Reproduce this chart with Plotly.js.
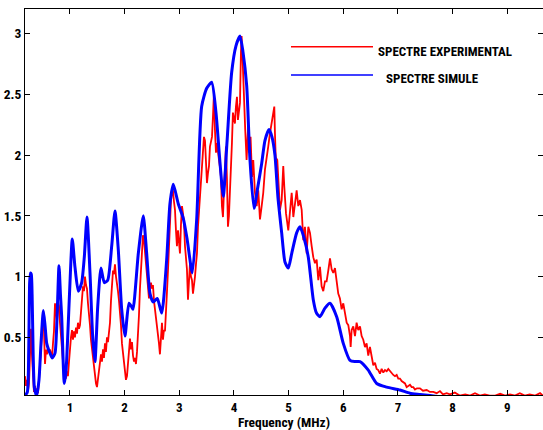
<!DOCTYPE html>
<html>
<head>
<meta charset="utf-8">
<script src="https://cdn.plot.ly/plotly-3.0.1.min.js"></script>
<style>
html,body{margin:0;padding:0;background:#fff;}
#chart{width:543px;height:430px;}
text{font-stretch:75% !important;}
</style>
</head>
<body>
<div id="chart"></div>
<script>
// Experimental spectrum (red), frequency in MHz
const redX = [0.177,0.195,0.213,0.232,0.250,0.268,0.286,0.305,0.323,0.341,0.360,0.378,0.396,0.415,0.433,0.451,0.469,0.488,0.512,0.524,0.543,0.561,0.579,0.598,0.616,0.634,0.652,0.671,0.689,0.707,0.726,0.744,0.762,0.780,0.799,0.817,0.835,0.854,0.872,0.890,0.909,0.927,0.945,0.963,0.982,1.000,
1.018,1.037,1.055,1.073,1.091,1.110,1.128,1.146,1.165,1.183,1.201,1.220,1.238,1.256,1.274,1.293,1.311,1.329,1.348,1.366,1.384,1.402,1.421,1.439,1.457,1.476,1.494,1.512,1.531,1.549,
1.567,1.585,1.604,1.622,1.640,1.658,1.677,1.695,1.713,1.732,1.750,1.768,1.787,1.805,1.823,1.842,1.860,1.878,1.897,1.915,1.933,1.951,1.970,1.988,2.006,2.024,2.043,2.061,2.079,2.098,2.116,2.134,2.153,2.171,2.189,
2.207,2.226,2.244,2.262,2.280,2.299,2.317,2.335,2.354,2.372,2.390,2.408,2.427,2.445,2.463,2.482,2.500,2.518,2.537,2.555,2.573,2.591,2.610,2.628,2.646,2.665,2.683,2.701,2.719,2.738,2.756,2.774,2.793,2.811,2.829,2.848,2.866,2.884,2.902,2.921,2.939,2.957,2.976,2.994,
3.012,3.030,3.049,3.067,3.085,3.104,3.122,3.140,3.159,3.177,3.195,3.213,3.232,3.250,3.268,3.287,3.305,3.323,3.342,3.360,3.378,3.396,3.415,3.433,3.451,3.470,3.488,3.506,3.524,3.543,3.561,3.579,3.598,3.616,3.634,3.652,3.671,3.689,3.707,3.726,3.744,3.762,3.780,3.799,3.817,3.835,3.853,3.872,3.890,3.908,3.926,3.945,3.963,3.981,
4.000,4.018,4.036,4.055,4.073,4.091,4.110,4.128,4.140,4.158,4.183,4.206,4.231,4.260,4.278,4.304,4.330,4.353,4.384,4.416,4.445,4.476,4.507,4.536,4.567,4.598,4.627,4.659,4.689,4.719,4.738,4.750,4.764,4.793,4.811,4.842,4.873,4.902,4.921,4.952,4.994,
5.025,5.056,5.086,5.116,5.147,5.177,5.208,5.239,5.268,5.299,5.330,5.360,5.391,5.422,5.451,5.482,5.513,5.543,5.574,5.604,5.634,5.665,5.695,5.726,5.757,5.787,5.817,5.848,5.879,5.908,5.939,5.970,
6.000,6.031,6.062,6.092,6.123,6.135,6.153,6.183,6.214,6.244,6.274,6.306,6.336,6.366,6.397,6.427,6.457,6.488,6.519,6.549,6.580,6.610,6.640,6.671,6.702,6.732,6.763,6.794,6.824,6.854,6.885,6.915,6.946,6.977,
7.006,7.037,7.068,7.098,7.129,7.159,7.189,7.220,7.251,7.281,7.312,7.348,7.403,7.458,7.526,7.586,7.647,7.709,7.769,7.824,7.892,7.952,
8.04,8.13,8.23,8.32,8.41,8.50,8.59,8.68,8.78,8.87,8.96,9.05,9.14,9.23,9.32,9.41,9.51,9.60,9.65];
const redY = [0.18,0.10,0.15,0.06,0.12,0.30,0.57,0.35,0.12,0.05,0.10,0.03,0.08,0.04,0.15,0.28,0.45,0.62,0.71,0.55,0.28,0.40,0.36,0.42,0.38,0.40,0.35,0.33,0.45,0.55,0.78,0.70,0.63,0.80,0.76,0.62,0.50,0.40,0.30,0.25,0.20,0.16,0.22,0.18,0.30,0.42,
0.50,0.56,0.48,0.55,0.50,0.58,0.53,0.62,0.57,0.60,0.72,0.85,0.92,0.88,1.00,0.93,0.90,0.78,0.70,0.60,0.48,0.40,0.32,0.25,0.18,0.12,0.09,0.15,0.24,0.30,
0.36,0.30,0.40,0.33,0.45,0.38,0.50,0.46,0.56,0.62,0.80,0.95,1.05,1.02,1.10,1.00,0.95,0.88,0.80,0.72,0.60,0.45,0.38,0.28,0.22,0.15,0.18,0.30,0.42,0.49,0.40,0.46,0.35,0.30,0.33,
0.28,0.38,0.50,0.68,0.90,1.05,1.25,1.34,1.30,1.20,1.08,1.00,0.85,0.82,0.92,0.95,0.90,0.93,0.80,0.73,0.65,0.60,0.56,0.45,0.36,0.50,0.62,0.48,0.56,0.55,0.68,0.87,1.05,1.25,1.45,1.63,1.70,1.71,1.62,1.55,1.38,1.25,1.38,1.30,
1.19,1.42,1.58,1.52,1.45,1.25,1.15,1.06,0.81,0.95,1.11,1.00,0.97,0.86,0.92,1.00,1.10,1.19,1.41,1.55,1.69,1.80,1.90,2.05,2.15,2.12,1.96,1.77,1.85,1.91,2.07,2.12,2.15,2.32,2.51,2.21,2.02,2.10,2.05,1.96,1.90,1.82,1.58,1.49,1.70,1.96,2.07,1.80,1.41,1.50,1.66,1.85,2.10,2.35,
2.30,2.26,2.40,2.48,2.29,2.35,2.43,2.85,2.98,2.79,2.43,2.21,1.96,2.24,2.02,2.15,1.82,1.96,1.69,1.58,1.71,1.47,1.58,1.69,1.88,1.96,2.07,2.18,2.26,2.35,2.40,2.18,1.98,1.96,1.77,1.55,1.63,1.91,1.74,1.52,1.38,
1.55,1.69,1.49,1.61,1.71,1.58,1.63,1.55,1.30,1.41,1.19,1.41,1.36,1.25,1.16,1.11,1.14,0.97,1.08,0.92,0.88,0.96,0.96,1.05,1.15,1.06,1.03,1.07,0.97,0.86,0.82,0.73,
0.78,0.70,0.62,0.60,0.51,0.42,0.56,0.59,0.51,0.62,0.56,0.59,0.51,0.48,0.42,0.45,0.35,0.42,0.34,0.27,0.29,0.24,0.23,0.20,0.24,0.21,0.23,0.22,0.24,0.22,0.20,0.19,0.18,0.19,
0.16,0.16,0.14,0.13,0.12,0.09,0.10,0.11,0.09,0.09,0.07,0.08,0.08,0.06,0.066,0.05,0.05,0.04,0.057,0.03,0.04,0.03,
0.045,0.02,0.03,0.02,0.04,0.02,0.03,0.02,0.02,0.035,0.02,0.03,0.02,0.04,0.02,0.03,0.02,0.04,0.02];

// Simulated spectrum (blue)
const blueX = [0.177,0.220,0.245,0.262,0.277,0.292,0.307,0.327,0.350,0.391,0.433,0.470,0.512,0.543,0.574,0.607,0.634,0.676,0.726,0.762,0.799,0.826,0.848,0.896,0.927,0.958,1.000,1.042,1.091,1.152,1.214,1.262,1.311,1.366,1.415,1.457,1.507,1.567,1.628,1.690,1.763,1.823,1.884,1.946,2.006,2.079,2.129,2.153,2.250,2.341,2.403,2.464,2.524,2.597,2.678,2.769,2.829,2.890,2.981,3.073,3.146,3.237,3.318,3.409,3.501,3.592,3.671,3.744,3.805,3.872,3.958,4.037,4.110,4.165,4.233,4.293,4.366,4.430,4.507,4.567,4.641,4.695,4.750,4.805,4.873,4.933,4.994,5.061,5.147,5.208,5.281,5.360,5.451,5.510,5.574,5.665,5.757,5.879,6.000,6.123,6.214,6.306,6.457,6.611,6.794,7.037,7.220,7.403,7.586,7.800,8.500,9.650];
const blueY = [0.02,0.05,0.40,0.95,1.03,1.02,0.85,0.35,0.08,0.02,0.15,0.45,0.72,0.60,0.45,0.40,0.37,0.33,0.37,0.65,1.09,0.85,0.67,0.12,0.22,0.50,0.95,1.31,1.08,0.88,0.95,1.16,1.49,1.03,0.51,0.30,0.75,1.07,0.95,0.97,1.25,1.54,1.22,0.73,0.51,0.78,0.75,0.73,1.19,1.50,1.19,0.86,0.79,0.82,0.70,1.14,1.60,1.76,1.60,1.48,1.30,1.03,1.47,2.40,2.55,2.60,2.35,1.94,1.66,2.10,2.68,2.90,2.98,2.85,2.57,1.96,1.56,1.72,1.93,2.12,2.21,2.15,2.00,1.65,1.36,1.12,1.07,1.20,1.36,1.41,1.32,1.16,0.81,0.70,0.67,0.74,0.78,0.67,0.45,0.31,0.30,0.30,0.23,0.12,0.09,0.066,0.04,0.03,0.02,0.01,0.005,0.0];

const legendNames = ['SPECTRE EXPERIMENTAL', 'SPECTRE SIMULE'];
const xTitle = 'Frequency (MHz)';

const FONT = 'Roboto, Liberation Sans, Arial, sans-serif';

const traces = [
  {x: redX, y: redY, type: 'scatter', mode: 'lines', name: legendNames[0],
   line: {color: '#ff0000', width: 1.8}, showlegend: false},
  {x: blueX, y: blueY, type: 'scatter', mode: 'lines', name: legendNames[1],
   line: {color: '#0000ff', width: 3, shape: 'spline', smoothing: 0.6}, showlegend: false}
];

const layout = {
  width: 543, height: 430,
  margin: {l: 25, r: 0, t: 9, b: 35},
  paper_bgcolor: '#fff', plot_bgcolor: '#fff',
  font: {family: FONT, size: 13, color: '#000', weight: 700},
  xaxis: {
    range: [0.177, 9.654], tickvals: [1,2,3,4,5,6,7,8,9],
    ticks: 'inside', ticklen: 5, tickcolor: '#000', tickwidth: 1,
    showline: true, linecolor: '#000', linewidth: 1, mirror: 'ticks',
    showgrid: false, zeroline: false,
    tickfont: {family: FONT, size: 13, weight: 700},
    title: {text: xTitle, font: {family: FONT, size: 13.5, weight: 700}, standoff: 5}
  },
  yaxis: {
    range: [0.025, 3.203], tickvals: [0.5,1,1.5,2,2.5,3],
    ticks: 'inside', ticklen: 5, tickcolor: '#000', tickwidth: 1,
    showline: true, linecolor: '#000', linewidth: 1, mirror: 'ticks',
    showgrid: false, zeroline: false,
    tickfont: {family: FONT, size: 13.5, weight: 700}
  },
  shapes: [
    {type: 'line', xref: 'paper', yref: 'paper', x0: 0.5135, x1: 0.6718, y0: 0.9023, y1: 0.9023,
     line: {color: '#ff0000', width: 1.5}},
    {type: 'line', xref: 'paper', yref: 'paper', x0: 0.5135, x1: 0.6718, y0: 0.829, y1: 0.829,
     line: {color: '#0000ff', width: 1.5}}
  ],
  annotations: [
    {xref: 'paper', yref: 'paper', x: 0.678, y: 0.891, xanchor: 'left', yanchor: 'middle',
     text: legendNames[0], showarrow: false, font: {family: FONT, size: 13, weight: 700}},
    {xref: 'paper', yref: 'paper', x: 0.693, y: 0.821, xanchor: 'left', yanchor: 'middle',
     text: legendNames[1], showarrow: false, font: {family: FONT, size: 13, weight: 700}}
  ]
};

Plotly.newPlot('chart', traces, layout, {displayModeBar: false, staticPlot: true});
</script>
</body>
</html>
